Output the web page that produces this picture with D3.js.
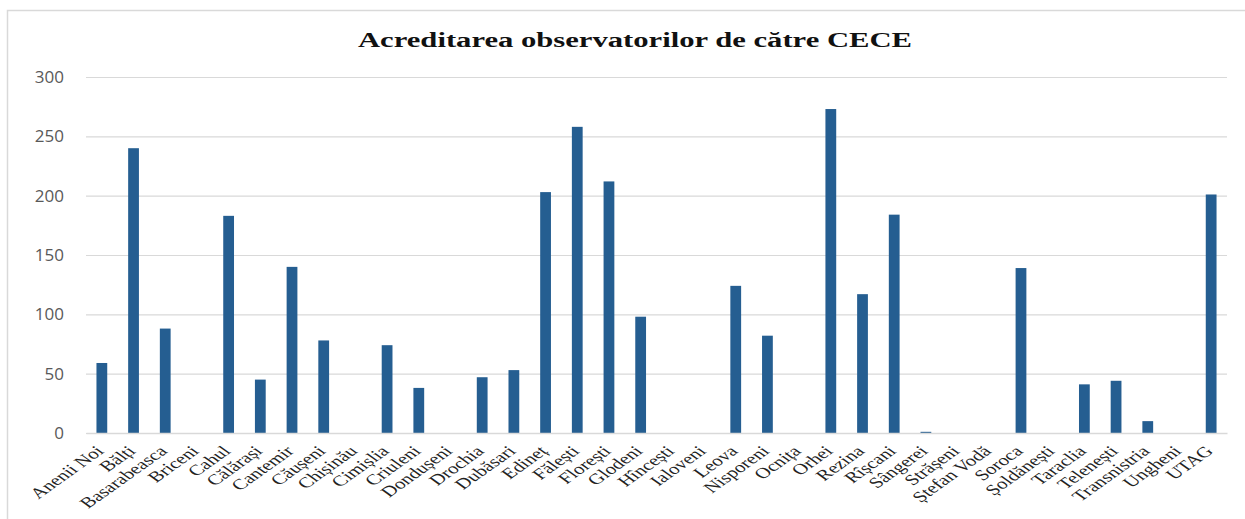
<!DOCTYPE html>
<html>
<head>
<meta charset="utf-8">
<script src="https://cdn.jsdelivr.net/npm/d3@7"></script>
<style>
  body { margin: 0; background: #fff; }
  svg { display: block; }
</style>
</head>
<body>
<div id="chart"></div>
<script>
const districts = ['Anenii Noi', 'Bălți', 'Basarabeasca', 'Briceni', 'Cahul', 'Călărași', 'Cantemir',
  'Căușeni', 'Chișinău', 'Cimișlia', 'Criuleni', 'Dondușeni', 'Drochia', 'Dubăsari', 'Edineț',
  'Fălești', 'Florești', 'Glodeni', 'Hîncești', 'Ialoveni', 'Leova', 'Nisporeni', 'Ocnița', 'Orhei',
  'Rezina', 'Rîșcani', 'Sângerei', 'Strășeni', 'Ștefan Vodă', 'Soroca', 'Șoldănești', 'Taraclia',
  'Telenești', 'Transnistria', 'Ungheni', 'UTAG'];
const observers = [59, 240, 88, 0, 183, 45, 140, 78, 0, 74, 38, 0, 47, 53, 203,
  258, 212, 98, 0, 0, 124, 82, 0, 273, 117, 184, 1, 0, 0, 139, 0, 41,
  44, 10, 0, 201];
const yTicks = [0, 50, 100, 150, 200, 250, 300];
const title = 'Acreditarea observatorilor de către CECE';

const W = 1245, H = 519;
const m = { top: 77, right: 18, bottom: 86, left: 86 };
// the source picture is stretched sideways, so the serif labels are too
const stretch = 1.4;

const svg = d3.select('#chart').append('svg')
  .attr('width', W)
  .attr('height', H);

// chart frame (right/bottom edges fall outside the picture)
svg.append('rect')
  .attr('x', 7.5).attr('y', 10.5)
  .attr('width', W + 20).attr('height', H + 20)
  .attr('fill', 'none')
  .attr('stroke', '#d9d9d9')
  .attr('stroke-width', 1.5);

svg.append('text')
  .attr('x', 358).attr('y', 47)
  .attr('textLength', 554)
  .attr('lengthAdjust', 'spacingAndGlyphs')
  .attr('font-family', 'Liberation Serif, DejaVu Serif, serif')
  .attr('font-weight', 'bold')
  .attr('font-size', 20)
  .attr('fill', '#111')
  .text(title);

const x = d3.scaleBand()
  .domain(districts)
  .range([m.left, W - m.right])
  .paddingInner(0.66)
  .paddingOuter(0.33);

const y = d3.scaleLinear()
  .domain([0, 300])
  .range([H - m.bottom, m.top]);

// gridlines + y labels
const yAxis = svg.append('g')
  .attr('transform', `translate(${m.left},0)`)
  .call(d3.axisLeft(y).tickValues(yTicks).tickSize(-(W - m.right - m.left)).tickPadding(22));
yAxis.select('.domain').remove();
yAxis.selectAll('.tick line').attr('stroke', '#d9d9d9').attr('stroke-width', 1.2);
yAxis.selectAll('.tick text')
  .attr('fill', '#595959')
  .attr('font-family', 'Open Sans, Liberation Sans, sans-serif')
  .attr('font-size', 17);

// bars
svg.append('g').selectAll('rect')
  .data(observers)
  .join('rect')
  .attr('x', (d, i) => x(districts[i]))
  .attr('y', d => y(d))
  .attr('width', x.bandwidth())
  .attr('height', d => y(0) - y(d))
  .attr('fill', '#255e91');

// x axis
const xAxis = svg.append('g')
  .attr('transform', `translate(0,${y(0)})`)
  .call(d3.axisBottom(x).tickSize(0).tickPadding(0));
xAxis.select('.domain').attr('stroke', '#d9d9d9').attr('stroke-width', 1.5);
xAxis.selectAll('.tick text')
  .attr('font-family', 'Liberation Serif, DejaVu Serif, serif')
  .attr('font-size', 15)
  .attr('fill', '#222')
  .attr('text-anchor', 'end')
  .attr('y', 0)
  .attr('dy', 0)
  .attr('transform', `translate(3,19) scale(${stretch},1) rotate(-45)`);
</script>
</body>
</html>
